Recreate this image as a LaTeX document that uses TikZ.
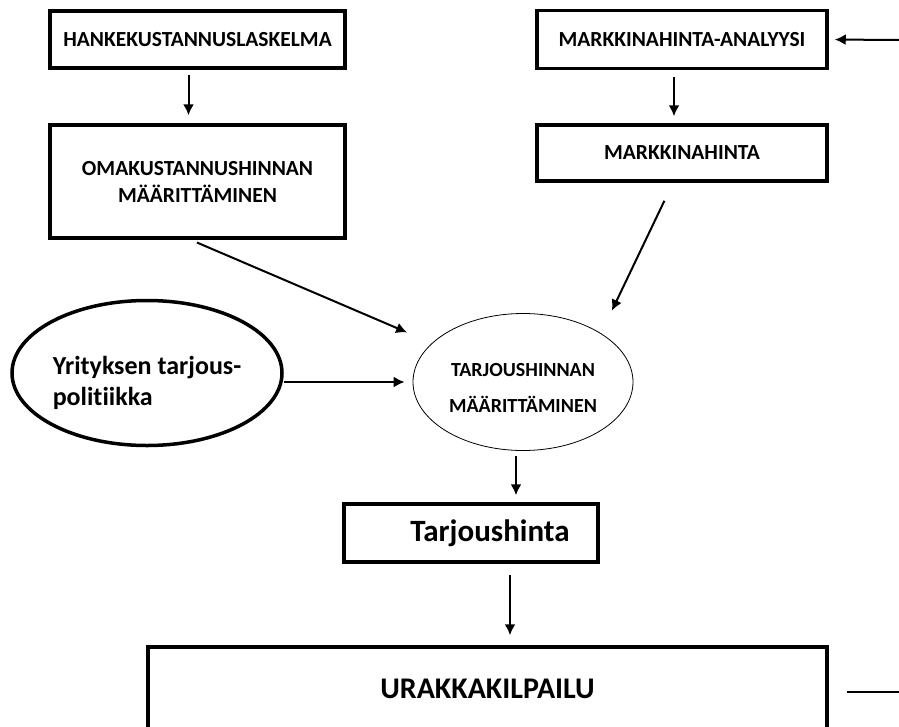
\documentclass[tikz,border=0pt]{standalone}
\usepackage{fontspec}
\setmainfont{Carlito}[Ligatures=NoCommon]
\usetikzlibrary{arrows.meta,shapes.geometric}

\begin{document}
\begin{tikzpicture}[x=1pt,y=-1pt,
    >={Latex[length=11pt,width=11pt]},
    laatikko/.style={draw,line width=3.5pt,rectangle,inner sep=0pt,align=center,font=\bfseries\fontsize{21.5}{27}\selectfont},
    nuoli/.style={->,line width=2pt}]
		  \useasboundingbox (0,0) rectangle (899,726);
		  \node[laatikko,minimum width=295,minimum height=57] (hanke) at (197.5,39.5) {HANKEKUSTANNUSLASKELMA};
		  \node[laatikko,minimum width=295,minimum height=113] (oma) at (197.5,181.5) {OMAKUSTANNUSHINNAN\\M\"A\"ARITT\"AMINEN};
		  \node[laatikko,minimum width=290,minimum height=58] (analyysi) at (682,39.5) {MARKKINAHINTA-ANALYYSI};
		  \node[laatikko,minimum width=290,minimum height=56] (markkina) at (682,153) {MARKKINAHINTA};
		  \node[draw,ellipse,line width=3.5pt,minimum width=270,minimum height=145,inner sep=0pt,align=left,
		        font=\bfseries\fontsize{26}{31}\selectfont] (politiikka) at (147,373) {\rule{0pt}{38pt}Yrityksen tarjous-\\politiikka};
		  \node[draw,ellipse,line width=0.8pt,minimum width=220,minimum height=137,inner sep=0pt,align=center,
		        font=\bfseries\fontsize{20}{36}\selectfont] (hinta) at (523,382) {\rule{0pt}{24pt}TARJOUSHINNAN\\M\"A\"ARITT\"AMINEN};
		  \node[laatikko,minimum width=254,minimum height=58,font=\bfseries\fontsize{31}{36}\selectfont] (tarjous) at (471,533) {\hspace*{38pt}Tarjoushinta};
		  \node[laatikko,minimum width=679,minimum height=84,font=\bfseries\fontsize{30}{36}\selectfont] (urakka) at (487.5,689) {URAKKAKILPAILU};
		  \coordinate (oikeayla) at (899,40);
		  \coordinate (oikeaala) at (899,692);
		  % nuolet
		  \draw[nuoli,shorten <=5pt,shorten >=8pt] ([xshift=-9]hanke.south) -- ([xshift=-9]oma.north);
		  \draw[nuoli,shorten <=7pt,shorten >=7pt] ([xshift=-8]analyysi.south) -- ([xshift=-8]markkina.north);
		  \draw[nuoli,shorten >=6pt] (oikeayla) -- (analyysi.east);
		  \draw[nuoli,shorten <=7pt,shorten >=27pt] ([xshift=-7]oma.south) -- (hinta);
		  \draw[nuoli,shorten <=20pt,shorten >=25pt] ([xshift=-9]markkina.south) -- (hinta.north east);
		  \draw[nuoli,shorten >=8pt] (politiikka.east |- hinta.west) -- (hinta.west);
		  \draw[nuoli,shorten <=5pt,shorten >=7pt] ([xshift=-7]hinta.south) -- ([xshift=-7]hinta.south |- tarjous.north);
		  \draw[nuoli,shorten <=11pt,shorten >=10pt] ([xshift=39]tarjous.south) -- ([xshift=39]tarjous.south |- urakka.north);
		  \draw[line width=2pt,shorten <=18pt] (urakka.east |- oikeaala) -- (oikeaala);
		\end{tikzpicture}
\end{document}
